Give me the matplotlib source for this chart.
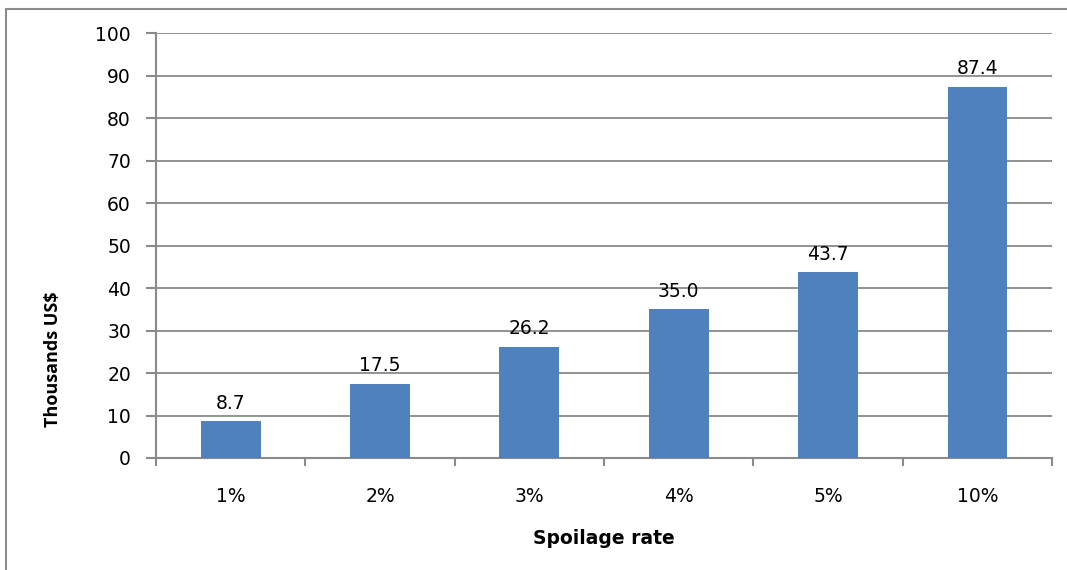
import matplotlib.pyplot as plt
from matplotlib.patches import Rectangle
from matplotlib.ticker import FixedLocator, MultipleLocator

# Spoilage cost per rate, in thousands of US$
rates = ["1%", "2%", "3%", "4%", "5%", "10%"]
cost = [8.7, 17.5, 26.2, 35.0, 43.7, 87.4]

BAR_COLOR = "#4F81BD"
AXIS_GRAY = "#8a8a8a"
TICK_SIZE = 13.5

fig = plt.figure(figsize=(10.67, 5.70), dpi=100)
ax = fig.add_axes([0.1462, 0.1965, 0.8398, 0.7455])

# light frame around the whole chart (right/bottom run off the canvas)
fig.patches.append(Rectangle((6 / 1067, -0.05), 1.1, (1 - 9 / 570) + 0.05,
                             transform=fig.transFigure, fill=False,
                             edgecolor="#8c8c8c", linewidth=1.5))

x = range(len(rates))
ax.bar(x, cost, width=0.4, color=BAR_COLOR, zorder=3)

for xi, v in zip(x, cost):
    ax.annotate(f"{v:.1f}", (xi, v), xytext=(0, 6), textcoords="offset points",
                ha="center", va="bottom", fontsize=TICK_SIZE)

ax.set_xlim(-0.5, len(rates) - 0.5)
ax.set_ylim(0, 100)
ax.yaxis.set_major_locator(MultipleLocator(10))
ax.grid(axis="y", color=AXIS_GRAY, linewidth=1.3, zorder=0)

# category labels at bar centres, tick marks on the boundaries
ax.set_xticks(list(x))
ax.set_xticklabels(rates, fontsize=TICK_SIZE)
ax.xaxis.set_minor_locator(FixedLocator([i - 0.5 for i in range(len(rates) + 1)]))
ax.tick_params(axis="x", which="major", length=0, pad=21)
ax.tick_params(axis="x", which="minor", length=6, width=1.5, color=AXIS_GRAY)
ax.tick_params(axis="y", length=7, width=1.5, color=AXIS_GRAY,
               labelsize=TICK_SIZE, pad=11)

for side in ("top", "right"):
    ax.spines[side].set_visible(False)
for side in ("left", "bottom"):
    ax.spines[side].set_color(AXIS_GRAY)
    ax.spines[side].set_linewidth(1.5)

fig.text(0.566, 0.0544, "Spoilage rate", ha="center", va="center",
         family="DejaVu Sans", fontsize=13.5, fontweight="bold")
fig.text(0.0497, 0.370, "Thousands US$", ha="center", va="center",
         rotation=90, family="Open Sans", fontsize=13, fontweight="bold")

fig.savefig("out.png", dpi=100)
